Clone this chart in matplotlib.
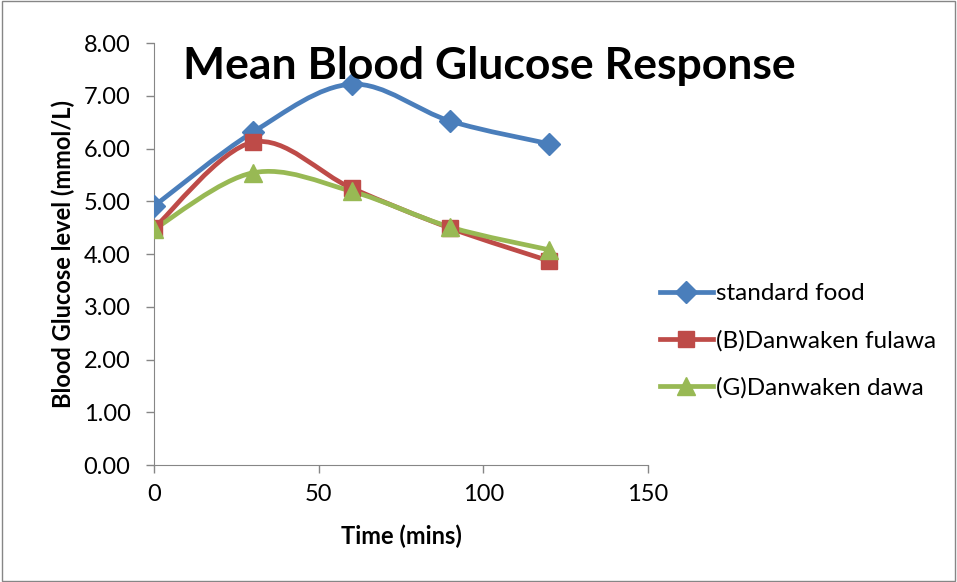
import numpy as np
import matplotlib.pyplot as plt
from matplotlib.path import Path
from matplotlib.patches import PathPatch, Rectangle

plt.rcParams['font.family'] = ['Lato', 'DejaVu Sans']

# data
time_mins = [0, 30, 60, 90, 120]
standard_food = [4.91, 6.31, 7.22, 6.52, 6.09]
danwaken_fulawa = [4.49, 6.12, 5.25, 4.49, 3.87]
danwaken_dawa = [4.47, 5.54, 5.19, 4.51, 4.08]

names = ['standard food', '(B)Danwaken fulawa', '(G)Danwaken dawa']
colors = ['#4A7EBB', '#BE4B48', '#98B954']
markers = ['D', 's', '^']
msizes = [11, 12, 13]


def smooth_path(xs, ys):
    # excel style smoothed line, bezier segments between the points
    p = np.column_stack([xs, ys]).astype(float)
    n = len(p)
    verts = [p[0]]
    codes = [Path.MOVETO]
    for i in range(n - 1):
        p0 = p[i - 1] if i > 0 else p[i]
        p3 = p[i + 2] if i + 2 < n else p[i + 1]
        c1 = p[i] + (p[i + 1] - p0) / 6.0
        c2 = p[i + 1] - (p3 - p[i]) / 6.0
        verts += [c1, c2, p[i + 1]]
        codes += [Path.CURVE4] * 3
    return Path(verts, codes)


fig = plt.figure(figsize=(9.57, 5.82), dpi=100)
ax = fig.add_axes([0.161, 0.201, 0.516, 0.725])

series = [standard_food, danwaken_fulawa, danwaken_dawa]
for vals, name, c, m, ms in zip(series, names, colors, markers, msizes):
    patch = PathPatch(smooth_path(time_mins, vals), facecolor='none',
                      edgecolor=c, lw=3.4, capstyle='round', zorder=2)
    ax.add_patch(patch)
    ax.plot(time_mins, vals, ls='none', marker=m, ms=ms, color=c, zorder=3)
    # proxy for the legend
    ax.plot([], [], color=c, lw=3.4, marker=m, ms=ms, label=name)

ax.set_xlim(0, 150)
ax.set_ylim(0, 8)
ax.set_xticks([0, 50, 100, 150])
ax.set_yticks(np.arange(0, 8.01, 1))
ax.set_yticklabels(['%.2f' % v for v in np.arange(0, 8.01, 1)])
ax.tick_params(labelsize=17, color='#868686', length=6, width=1)
ax.tick_params(axis='y', pad=11)
ax.tick_params(axis='x', pad=8)
for s in ['top', 'right']:
    ax.spines[s].set_visible(False)
for s in ['left', 'bottom']:
    ax.spines[s].set_color('#868686')
ax.set_xlabel('Time (mins)', fontsize=17, fontweight='bold', labelpad=14)
ax.set_ylabel('Blood Glucose level (mmol/L)', fontsize=17, fontweight='bold', labelpad=6)

fig.text(0.511, 0.887, 'Mean Blood Glucose Response', fontsize=32,
         fontweight='bold', ha='center', va='center')

ax.legend(loc='center left', bbox_to_anchor=(1.024, 0.294), frameon=False,
          fontsize=17.5, handlelength=2.2, handletextpad=0.1, labelspacing=1.05,
          borderaxespad=0, borderpad=0)

fig.add_artist(Rectangle((0.002, 0.002), 0.996, 0.996, transform=fig.transFigure,
                         fill=False, edgecolor='#868686', lw=1))

fig.savefig('out.png', dpi=100)
